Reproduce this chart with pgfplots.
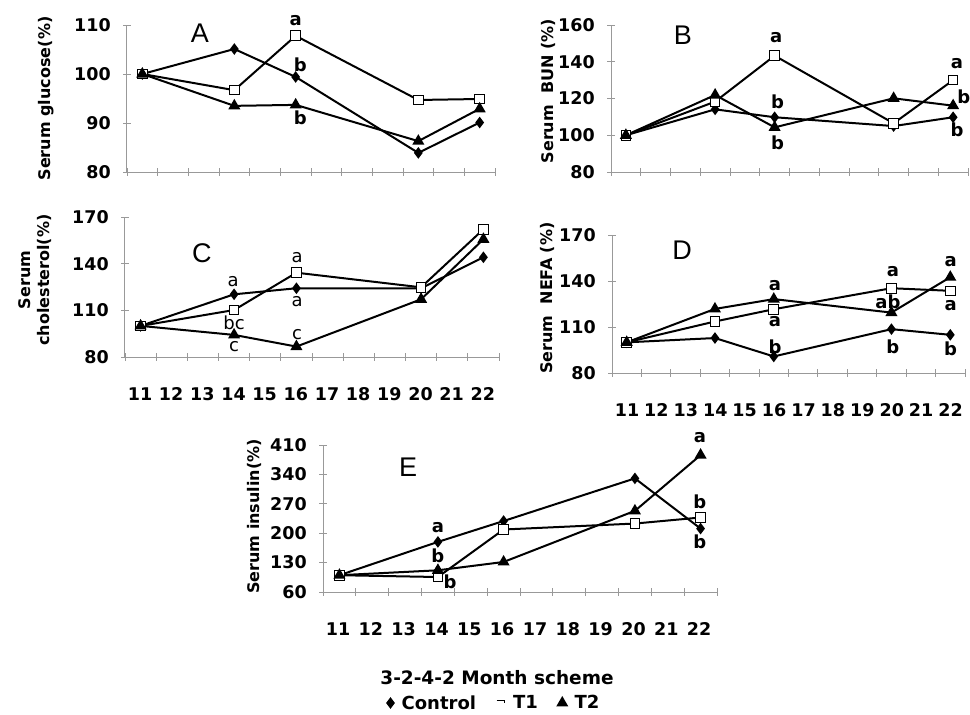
\documentclass[border=0pt]{standalone}
\usepackage{fontspec}
\setmainfont{DejaVu Sans}
\newfontfamily\lettfont{Liberation Sans}
\usepackage{pgfplots}
\pgfplotsset{compat=1.18}
\newcommand{\afont}{\bfseries\fontsize{18}{20}\selectfont}
\newcommand{\cfont}{\fontsize{18}{20}\selectfont}
\newcommand{\pfont}{\lettfont\fontsize{27}{30}\selectfont}
\pgfplotsset{
  panel/.style={
    scale only axis, clip=false,
    axis x line=bottom, axis y line=left,
    axis line style={-, draw=black!40, line width=1pt},
    xmin=10.5, xmax=22.5,
    xtick={10.5,11.5,12.5,13.5,14.5,15.5,16.5,17.5,18.5,19.5,20.5,21.5,22.5},
    major tick length=7.5pt,
    tick style={draw=black!40, line width=0.9pt},
    /pgf/number format/assume math mode=true,
    tick label style={font={\bfseries\fontsize{17.5}{20}\selectfont}},
    xticklabel style={xshift=15pt, yshift=-23pt},
    yticklabel style={xshift=-9pt},
    ylabel style={font=\bfseries\fontsize{16}{19}\selectfont, anchor=center},
    every axis plot/.append style={black, line width=2pt},
  },
  ctl/.style={mark=diamond*, mark size=4.2pt, mark options={solid, fill=black}},
  tone/.style={mark=square*, mark size=4.8pt, mark options={solid, fill=white, line width=1pt}},
  ttwo/.style={mark=triangle*, mark size=5pt, mark options={solid, fill=black}},
  labs/.style={xticklabels={11,12,13,14,15,16,17,18,19,20,21,22,{}}},
}
\begin{document}
\begin{tikzpicture}
\path[use as bounding box] (0,0) rectangle (970pt,-715pt);

% Panel A
\begin{axis}[panel, at={(127pt,-172pt)}, anchor=south west, width=368pt, height=147pt,
  ymin=80, ymax=110, ytick={80,90,100,110}, xticklabels={},
  ylabel={Serum glucose(\%)}, ylabel style={at={(axis description cs:-0.22,0.5)}}]
\addplot[ctl] coordinates {(11,100)(14,105.1)(16,99.4)(20,83.9)(22,90.1)};
\addplot[tone] coordinates {(11,100)(14,96.7)(16,107.8)(20,94.7)(22,94.9)};
\addplot[ttwo] coordinates {(11,100)(14,93.5)(16,93.7)(20,86.3)(22,92.9)};
\node[font=\pfont] at (axis cs:12.88,108.4) {A};
\node[font=\afont] at (axis cs:16,111.0) {a};
\node[font=\afont] at (axis cs:16.15,101.8) {b};
\node[font=\afont] at (axis cs:16.15,91.0) {b};
\end{axis}

% Panel B
\begin{axis}[panel, at={(611pt,-172pt)}, anchor=south west, width=357pt, height=147pt,
  ymin=80, ymax=160, ytick={80,100,120,140,160}, xticklabels={},
  ylabel={Serum\ \ BUN (\%)}, ylabel style={at={(axis description cs:-0.176,0.55)}}]
\addplot[ctl] coordinates {(11,100)(14,114.1)(16,109.8)(20,105)(22,109.8)};
\addplot[tone] coordinates {(11,100)(14,118.3)(16,143.3)(20,106.5)(22,130)};
\addplot[ttwo] coordinates {(11,100)(14,121.9)(16,104.3)(20,120.1)(22,116.1)};
\node[font=\pfont] at (axis cs:12.92,154.6) {B};
\node[font=\afont] at (axis cs:16.05,153.1) {a};
\node[font=\afont] at (axis cs:16.1,118.3) {b};
\node[font=\afont] at (axis cs:16.1,95.9) {b};
\node[font=\afont] at (axis cs:22.13,139.2) {a};
\node[font=\afont] at (axis cs:22.36,121.0) {b};
\node[font=\afont] at (axis cs:22.13,102.9) {b};
\end{axis}

% Panel C
\begin{axis}[panel, labs, at={(125pt,-357pt)}, anchor=south west, width=374pt, height=140pt,
  ymin=80, ymax=170, ytick={80,110,140,170},
  ylabel={Serum\\cholesterol(\%)}, ylabel style={align=center, at={(axis description cs:-0.241,0.55)}}]
\addplot[ctl] coordinates {(11,100)(14,120.3)(16,124.2)(20,124.2)(22,144.1)};
\addplot[tone] coordinates {(11,100)(14,110.2)(16,134.2)(20,124.8)(22,162.1)};
\addplot[ttwo] coordinates {(11,100)(14,94.2)(16,86.7)(20,117.1)(22,155.7)};
\node[font=\pfont] at (axis cs:12.97,146.8) {C};
\node[font=\cfont] at (axis cs:13.97,128.8) {a};
\node[font=\cfont] at (axis cs:14,102.0) {bc};
\node[font=\cfont] at (axis cs:14,86.6) {c};
\node[font=\cfont] at (axis cs:16.02,143.6) {a};
\node[font=\cfont] at (axis cs:16.02,115.5) {a};
\node[font=\cfont] at (axis cs:16.02,94.1) {c};
\end{axis}

% Panel D
\begin{axis}[panel, labs, at={(612pt,-373pt)}, anchor=south west, width=353pt, height=138pt,
  ymin=80, ymax=170, ytick={80,110,140,170},
  ylabel={Serum\ \ NEFA (\%)}, ylabel style={at={(axis description cs:-0.184,0.543)}}]
\addplot[ctl] coordinates {(11,100)(14,102.8)(16,90.8)(20,108.6)(22,104.9)};
\addplot[tone] coordinates {(11,100)(14,113.6)(16,121.6)(20,135.3)(22,133.6)};
\addplot[ttwo] coordinates {(11,100)(14,121.8)(16,128.2)(20,119.4)(22,142.5)};
\node[font=\pfont] at (axis cs:12.88,160) {D};
\node[font=\afont] at (axis cs:16.04,137.3) {a};
\node[font=\afont] at (axis cs:16.04,113.4) {a};
\node[font=\afont] at (axis cs:16.04,97.1) {b};
\node[font=\afont] at (axis cs:20.05,146.4) {a};
\node[font=\afont] at (axis cs:19.88,126.4) {ab};
\node[font=\afont] at (axis cs:20.05,97.1) {b};
\node[font=\afont] at (axis cs:22.01,152.4) {a};
\node[font=\afont] at (axis cs:22.01,124.2) {a};
\node[font=\afont] at (axis cs:22.01,96.1) {b};
\end{axis}

% Panel E
\begin{axis}[panel, labs, at={(323pt,-592pt)}, anchor=south west, width=394pt, height=147pt,
  ymin=60, ymax=410, ytick={60,130,200,270,340,410},
  ylabel={Serum insulin(\%)}, ylabel style={at={(axis description cs:-0.173,0.514)}},
  xlabel={3-2-4-2 Month scheme},
  xlabel style={at={(axis description cs:0.4416,-0.585)}, anchor=center, font=\bfseries\fontsize{18.5}{21}\selectfont},
  legend columns=3,
  legend style={draw=none, fill=none, at={(axis description cs:0.435,-0.755)}, anchor=center,
    font=\bfseries\fontsize{18}{21}\selectfont,
    /tikz/every odd column/.append style={column sep=6pt},
    /tikz/every even column/.append style={column sep=18pt}},
  legend image code/.code={\draw[#1] plot coordinates {(0.22cm,0cm)};}]
\addplot[ctl, forget plot] coordinates {(11,100)(14,179.3)(16,229)(20,330.5)(22,211)};
\addplot[tone, forget plot] coordinates {(11,100)(14,95.7)(16,208.8)(20,223)(22,237.4)};
\addplot[ttwo, forget plot] coordinates {(11,100)(14,111.7)(16,131.5)(20,253.2)(22,386)};
\addlegendimage{only marks, mark=diamond*, mark size=4.2pt, black}
\addlegendentry{Control}
\addlegendimage{legend image code/.code={\draw[black, line width=1.1pt] (0.05cm,0.1cm) -- (0.33cm,0.1cm) -- (0.33cm,0.0cm);}}
\addlegendentry{T1}
\addlegendimage{only marks, mark=triangle*, mark size=5pt, black}
\addlegendentry{T2}
\node[font=\pfont] at (axis cs:13.09,358) {E};
\node[font=\afont] at (axis cs:14.0,212.7) {a};
\node[font=\afont] at (axis cs:14.0,145.9) {b};
\node[font=\afont] at (axis cs:14.37,84.6) {b};
\node[font=\afont] at (axis cs:21.98,427.5) {a};
\node[font=\afont] at (axis cs:21.98,275.5) {b};
\node[font=\afont] at (axis cs:21.98,180) {b};
\end{axis}
\end{tikzpicture}
\end{document}
